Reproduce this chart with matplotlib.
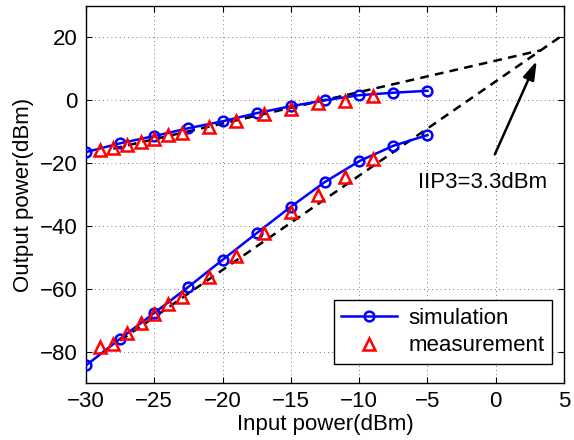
import numpy as np
import matplotlib
matplotlib.use("Agg")
import matplotlib.pyplot as plt

# ---------------------------------------------------------------------------
# Data
# ---------------------------------------------------------------------------
sim_in = [-30, -27.5, -25, -22.5, -20, -17.5, -15, -12.5, -10, -7.5, -5]
sim_fund = [-16.5, -13.7, -11.4, -8.9, -6.7, -4.1, -1.9, 0.0, 1.6, 2.4, 3.0]
sim_im3 = [-84.4, -75.9, -67.7, -59.4, -50.8, -42.3, -33.9, -26.0, -19.4, -14.5, -11.1]

meas_in = [-29, -28, -27, -26, -25, -24, -23, -21, -19, -17, -15, -13, -11, -9]
meas_fund = [-15.9, -15.2, -14.1, -13.2, -12.4, -11.2, -10.4, -8.5, -6.6, -4.5,
             -2.9, -1.0, -0.3, 1.5]
meas_im3 = [-78.6, -77.6, -74.0, -71.0, -68.0, -64.8, -62.6, -56.1, -49.5, -42.3,
            -35.7, -30.2, -24.4, -18.8]

# extrapolation lines (slope 1 and slope 3), intersecting at IIP3
fund_ext_x = [-28, 3.3]
fund_ext_y = [-15.4, 15.9]
im3_ext_x = [-27.5, 5]
im3_ext_y = [-76.5, 21.0]

iip3_label = "IIP3=3.3dBm"

# ---------------------------------------------------------------------------
# Plot
# ---------------------------------------------------------------------------
plt.rcParams["font.family"] = ["Liberation Sans", "DejaVu Sans"]
plt.rcParams["font.size"] = 16

fig = plt.figure(figsize=(5.74, 4.4), dpi=100)
ax = fig.add_axes([0.1498, 0.1295, 0.8328, 0.8569])

dash_kw = dict(color="k", linewidth=1.8, linestyle=(0, (3.5, 2.5)), zorder=2)
ax.plot(fund_ext_x, fund_ext_y, **dash_kw)
ax.plot(im3_ext_x, im3_ext_y, **dash_kw)

sim_kw = dict(color="b", linewidth=1.8, marker="o", markersize=7,
              markerfacecolor="none", markeredgewidth=1.8, zorder=3)
meas_kw = dict(color="r", linestyle="none", marker="^", markersize=8,
               markerfacecolor="none", markeredgewidth=1.8, zorder=4)

ax.plot(sim_in, sim_fund, label="simulation", **sim_kw)
ax.plot(sim_in, sim_im3, **sim_kw)
ax.plot(meas_in, meas_fund, label="measurement", **meas_kw)
ax.plot(meas_in, meas_im3, **meas_kw)

ax.annotate(iip3_label, xy=(3.0, 12.5), xytext=(-1.0, -26.3),
            ha="center", va="center", fontsize=16,
            arrowprops=dict(arrowstyle="-|>,head_length=0.7,head_width=0.22",
                            color="k", lw=1.8, mutation_scale=16,
                            shrinkA=12, shrinkB=0))

ax.set_xlim(-30, 5)
ax.set_ylim(-90, 30)
ax.set_xticks(np.arange(-30, 6, 5))
ax.set_yticks(np.arange(-80, 21, 20))
ax.set_xticklabels(["\u221230", "\u221225", "\u221220", "\u221215",
                    "\u221210", "\u22125", "0", "5"])
ax.set_yticklabels(["\u221280", "\u221260", "\u221240", "\u221220", "0", "20"])
ax.tick_params(direction="in", top=True, right=True, length=4, width=0.8,
               labelsize=16, pad=6)
ax.grid(True, color="k", linestyle=(0, (1, 4)), linewidth=0.6, alpha=0.7)
for s in ax.spines.values():
    s.set_linewidth(1.0)

ax.set_xlabel("Input power(dBm)", fontsize=16, labelpad=1)
ax.set_ylabel("Output power(dBm)", fontsize=16, labelpad=4)

leg = ax.legend(loc="lower right", bbox_to_anchor=(0.975, 0.05),
                fancybox=False, edgecolor="k", framealpha=1,
                handlelength=2.5, borderpad=0.35, labelspacing=0.3,
                handletextpad=0.5, borderaxespad=0)
leg.get_frame().set_linewidth(1.0)

fig.savefig("out.png", dpi=100)
